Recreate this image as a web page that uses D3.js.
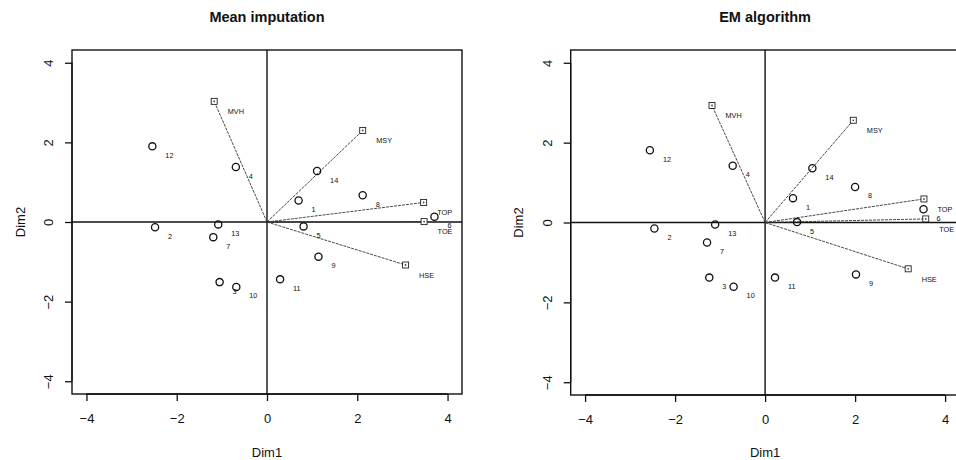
<!DOCTYPE html>
<html>
<head>
<meta charset="utf-8">
<script src="https://cdn.jsdelivr.net/npm/d3@7"></script>
<style>
  html, body { margin: 0; padding: 0; background: #fff; }
  svg { display: block; font-family: "Liberation Sans", Arial, Helvetica, sans-serif; }
</style>
</head>
<body>
<svg id="chart" width="956" height="460"></svg>
<script>
// ---------------- DATA ----------------
const individuals = ["1","2","3","4","5","6","7","8","9","10","11","12","13","14"];
const meanDim1 = [0.70, -2.48, -1.05, -0.69, 0.81, 3.71, -1.19, 2.12, 1.14, -0.68, 0.29, -2.54, -1.08, 1.11];
const meanDim2 = [0.54, -0.13, -1.51, 1.38, -0.11, 0.13, -0.38, 0.67, -0.87, -1.63, -1.44, 1.90, -0.06, 1.28];
const emDim1   = [0.62, -2.46, -1.24, -0.72, 0.71, 3.52, -1.29, 2.00, 2.02, -0.70, 0.22, -2.56, -1.11, 1.05];
const emDim2   = [0.61, -0.15, -1.38, 1.42, 0.01, 0.33, -0.50, 0.89, -1.30, -1.61, -1.38, 1.81, -0.05, 1.36];

const variables  = ["MVH", "MSY", "TOP", "TOE", "HSE"];
const meanVarDim1 = [-1.17, 2.12, 3.47, 3.48, 3.07];
const meanVarDim2 = [3.03, 2.30, 0.49, 0.01, -1.08];
const emVarDim1   = [-1.18, 1.96, 3.53, 3.57, 3.18];
const emVarDim2   = [2.93, 2.56, 0.59, 0.09, -1.16];

const tickValues = [-4, -2, 0, 2, 4];
const tickLabels = ["\u22124", "\u22122", "0", "2", "4"];
const panelTitles = ["Mean imputation", "EM algorithm"];
const xLabel = "Dim1";
const yLabel = "Dim2";
const axisLimit = 4.32;

// ---------------- DRAW ----------------
const svg = d3.select("#chart");

const panels = [
  { title: panelTitles[0], ind1: meanDim1, ind2: meanDim2, var1: meanVarDim1, var2: meanVarDim2,
    box: { x0: 72, x1: 462, y0: 50, y1: 394 } },
  { title: panelTitles[1], ind1: emDim1, ind2: emDim2, var1: emVarDim1, var2: emVarDim2,
    box: { x0: 570.7, x1: 959.5, y0: 50, y1: 395 } }
];

panels.forEach(p => {
  const b = p.box;
  const x = d3.scaleLinear().domain([-axisLimit, axisLimit]).range([b.x0, b.x1]);
  const y = d3.scaleLinear().domain([-axisLimit, axisLimit]).range([b.y1, b.y0]);
  const g = svg.append("g");

  // title
  g.append("text").attr("x", x(0)).attr("y", 22)
    .attr("text-anchor", "middle").attr("font-size", 14.5).attr("font-weight", "bold")
    .attr("fill", "#111").text(p.title);

  // x axis
  const xAxis = d3.axisBottom(x).tickValues(tickValues).tickSize(7).tickPadding(13)
    .tickFormat((d, i) => tickLabels[i]);
  const gx = g.append("g").attr("transform", `translate(0,${b.y1})`).call(xAxis);
  gx.select(".domain").attr("d", `M${x(-4)},0H${x(4)}`).attr("stroke", "#111").attr("stroke-width", 1.3);
  gx.selectAll(".tick line").attr("stroke", "#111").attr("stroke-width", 1.3);
  gx.selectAll(".tick text").attr("font-size", 13).attr("fill", "#111")
    .attr("font-family", "Liberation Sans, Arial, sans-serif");

  // y axis
  const yAxis = d3.axisLeft(y).tickValues(tickValues).tickSize(7).tickPadding(0)
    .tickFormat((d, i) => tickLabels[i]);
  const gy = g.append("g").attr("transform", `translate(${b.x0},0)`).call(yAxis);
  gy.select(".domain").attr("d", `M0,${y(-4)}V${y(4)}`).attr("stroke", "#111").attr("stroke-width", 1.3);
  gy.selectAll(".tick line").attr("stroke", "#111").attr("stroke-width", 1.3);
  gy.selectAll(".tick text")
    .attr("x", 0).attr("dy", null).attr("y", 0)
    .attr("transform", "translate(-23.5,0) rotate(-90)")
    .attr("text-anchor", "middle").attr("dominant-baseline", "central")
    .attr("font-size", 13).attr("fill", "#111")
    .attr("font-family", "Liberation Sans, Arial, sans-serif");

  // axis titles
  g.append("text").attr("x", x(0)).attr("y", 456.5)
    .attr("text-anchor", "middle").attr("font-size", 13).attr("fill", "#111").text(xLabel);
  g.append("text")
    .attr("transform", `translate(${b.x0 - 52},${y(0)}) rotate(-90)`)
    .attr("text-anchor", "middle").attr("dominant-baseline", "central")
    .attr("font-size", 13).attr("fill", "#111").text(yLabel);

  // clip for plot area
  const clipId = "clip" + Math.round(b.x0);
  svg.append("defs").append("clipPath").attr("id", clipId)
    .append("rect").attr("x", b.x0).attr("y", b.y0).attr("width", b.x1 - b.x0).attr("height", b.y1 - b.y0);
  const plot = g.append("g").attr("clip-path", `url(#${clipId})`);

  // zero lines
  plot.append("line").attr("x1", b.x0).attr("x2", b.x1).attr("y1", y(0)).attr("y2", y(0))
    .attr("stroke", "#111").attr("stroke-width", 1.4);
  plot.append("line").attr("x1", x(0)).attr("x2", x(0)).attr("y1", b.y0).attr("y2", b.y1)
    .attr("stroke", "#111").attr("stroke-width", 1.4);

  // variable arrows
  const vars = variables.map((v, i) => ({ name: v, d1: p.var1[i], d2: p.var2[i] }));
  plot.selectAll("line.var").data(vars).enter().append("line").attr("class", "var")
    .attr("x1", x(0)).attr("y1", y(0))
    .attr("x2", d => x(d.d1)).attr("y2", d => y(d.d2))
    .attr("stroke", "#333").attr("stroke-width", 0.9).attr("stroke-dasharray", "3,1");
  plot.selectAll("rect.var").data(vars).enter().append("rect").attr("class", "var")
    .attr("x", d => x(d.d1) - 3).attr("y", d => y(d.d2) - 3)
    .attr("width", 6).attr("height", 6)
    .attr("fill", "#fff").attr("stroke", "#222").attr("stroke-width", 0.9);
  plot.selectAll("circle.vdot").data(vars).enter().append("circle").attr("class", "vdot")
    .attr("cx", d => x(d.d1)).attr("cy", d => y(d.d2)).attr("r", 0.9).attr("fill", "#444");
  plot.selectAll("text.var").data(vars).enter().append("text").attr("class", "var")
    .attr("x", d => x(d.d1) + 13.5).attr("y", d => y(d.d2) + 10.2)
    .attr("dominant-baseline", "central")
    .attr("font-size", 7.3).attr("fill", "#111").text(d => d.name);

  // individuals
  const inds = individuals.map((v, i) => ({ name: v, d1: p.ind1[i], d2: p.ind2[i] }));
  plot.selectAll("circle.ind").data(inds).enter().append("circle").attr("class", "ind")
    .attr("cx", d => x(d.d1)).attr("cy", d => y(d.d2)).attr("r", 3.6)
    .attr("fill", "none").attr("stroke", "#111").attr("stroke-width", 1.3);
  plot.selectAll("text.ind").data(inds).enter().append("text").attr("class", "ind")
    .attr("x", d => x(d.d1) + 13).attr("y", d => y(d.d2) + 9)
    .attr("dominant-baseline", "central")
    .attr("font-size", 7.3).attr("fill", "#111").text(d => d.name);

  // box
  g.append("rect").attr("x", b.x0).attr("y", b.y0).attr("width", b.x1 - b.x0).attr("height", b.y1 - b.y0)
    .attr("fill", "none").attr("stroke", "#111").attr("stroke-width", 1.4);
});
</script>
</body>
</html>
